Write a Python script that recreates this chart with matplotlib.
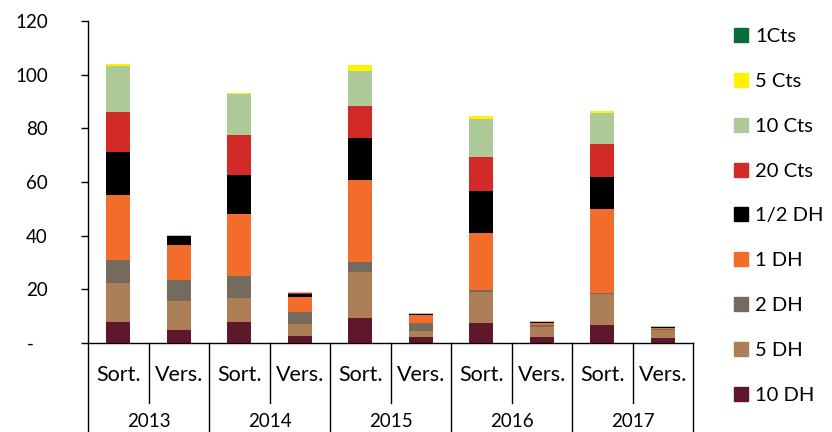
import matplotlib
matplotlib.use("Agg")
import matplotlib.pyplot as plt
from matplotlib.patches import Patch

plt.rcParams['font.family'] = ['Lato', 'DejaVu Sans']

years = ["2013", "2014", "2015", "2016", "2017"]
kinds = ["Sort.", "Vers."]

# stacked from bottom (10 DH) to top (1Cts)
series = ["10 DH", "5 DH", "2 DH", "1 DH", "1/2 DH", "20 Cts", "10 Cts", "5 Cts", "1Cts"]
colors = ["#60162B", "#AC7F56", "#756A5E", "#F26D2B", "#000000",
          "#D22B27", "#AECA98", "#FFF200", "#0B6B3A"]

# columns: 2013 Sort, 2013 Vers, 2014 Sort, 2014 Vers, ... 2017 Vers
d10dh = [7.9, 4.8, 7.7, 2.7, 9.4, 2.1, 7.6, 2.3, 6.7, 1.7]
d5dh = [14.6, 10.8, 8.9, 4.4, 17.1, 2.4, 11.3, 3.5, 11.4, 3.1]
d2dh = [8.3, 8.0, 8.2, 4.6, 3.6, 3.1, 0.9, 0.8, 0.5, 0.5]
d1dh = [24.4, 12.9, 23.1, 5.6, 30.7, 2.8, 21.2, 0.7, 31.3, 0.3]
d05dh = [16.1, 3.5, 14.8, 1.1, 15.7, 0.3, 15.5, 0.4, 12.0, 0.2]
d20c = [14.9, 0.0, 14.8, 0.1, 11.9, 0.2, 12.9, 0.2, 12.3, 0.1]
d10c = [17.0, 0.1, 15.2, 0.5, 13.1, 0.3, 14.2, 0.3, 11.6, 0.3]
d5c = [0.6, 0.2, 0.6, 0.0, 2.0, 0.0, 1.0, 0.1, 0.6, 0.0]
d1c = [0.0, 0.0, 0.0, 0.0, 0.0, 0.0, 0.0, 0.0, 0.0, 0.0]
data = [d10dh, d5dh, d2dh, d1dh, d05dh, d20c, d10c, d5c, d1c]

fig = plt.figure(figsize=(8.32, 4.32), dpi=100)
ax = fig.add_axes([88 / 832, 89 / 432, 605 / 832, 322 / 432])

x = list(range(len(d10dh)))
bottom = [0.0] * len(x)
for vals, col, name in zip(data, colors, series):
    ax.bar(x, vals, width=0.4, bottom=bottom, color=col, label=name)
    bottom = [b + v for b, v in zip(bottom, vals)]

ax.set_xlim(-0.5, len(x) - 0.5)
ax.set_ylim(0, 120)
ax.set_yticks(range(0, 121, 20))
ax.set_yticklabels(["-   "] + [str(v) for v in range(20, 121, 20)])
ax.tick_params(axis="y", direction="out", length=5, width=1, pad=24, labelsize=13.5)
ax.set_xticks(x)
ax.set_xticklabels(kinds * len(years))
ax.tick_params(axis="x", length=0, pad=16, labelsize=15.5)

for s in ["top", "right"]:
    ax.spines[s].set_visible(False)
ax.spines["left"].set_visible(False)
ax.spines["bottom"].set_linewidth(1)

# category separators below the axis
tr = ax.get_xaxis_transform()
for i in range(len(x) + 1):
    xs = i - 0.5
    low = -0.28 if i % 2 == 0 else -0.186
    top = 1.0 if i == 0 else 0.0
    ax.plot([xs, xs], [low, top], transform=tr, color="black", lw=1, clip_on=False)

for i, yr in enumerate(years):
    ax.text(2 * i + 0.5, -0.245, yr, transform=tr, ha="center", va="center", fontsize=13.5)

handles = [Patch(color=c, label=n) for c, n in zip(colors, series)][::-1]
fig.legend(handles=handles, loc="upper left", bbox_to_anchor=(716 / 832, 1 - 10 / 432),
           frameon=False, fontsize=14.5, handlelength=0.7, handleheight=0.7,
           handletextpad=0.35, labelspacing=1.376)

fig.savefig("out.png", dpi=100)
